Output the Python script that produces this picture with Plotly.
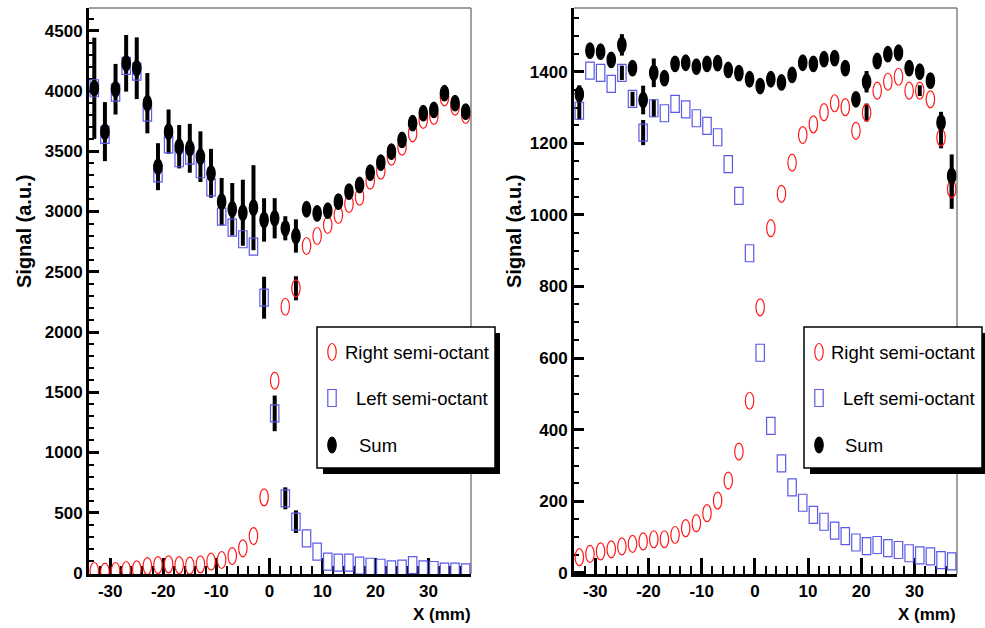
import plotly.graph_objects as go

# ---------------- data ----------------
x_mm = [-33, -31, -29, -27, -25, -23, -21, -19, -17, -15, -13, -11, -9, -7, -5, -3, -1, 1,
        3, 5, 7, 9, 11, 13, 15, 17, 19, 21, 23, 25, 27, 29, 31, 33, 35, 37]

# Left panel
sum_L = [4023, 3663, 4015, 4230, 4189, 3899, 3372, 3663, 3538, 3525, 3455, 3317, 3082, 3019, 2990, 3032, 2930, 2944,
         2861, 2797, 3019, 2985, 3007, 3082, 3165, 3220, 3323, 3406, 3497, 3594, 3733, 3816, 3843, 3982, 3899, 3829]
left_L = [4023, 3636, 3987, 4208, 4161, 3820, 3317, 3558, 3442, 3464, 3351, 3201, 2957, 2866, 2770, 2708, 2285, 1325,
          620, 426, 288, 177, 94, 86, 86, 61, 52, 44, 31, 36, 66, 31, 25, 11, 11, 6]
right_L = [17, 11, 17, 25, 31, 58, 66, 72, 66, 61, 72, 94, 108, 141, 205, 307, 628, 1596,
           2210, 2363, 2714, 2797, 2888, 2971, 3063, 3123, 3256, 3339, 3455, 3538, 3649, 3760, 3793, 3948, 3870, 3801]
sum_err_L = [420, 245, 210, 235, 256, 250, 195, 184, 180, 203, 210, 203, 196, 218, 274, 353, 180, 167,
             100, 138, 25, 25, 25, 25, 25, 25, 25, 25, 25, 25, 25, 25, 25, 25, 25, 25]
left_err_L = [0, 0, 0, 0, 0, 0, 0, 0, 0, 0, 0, 0, 0, 0, 0, 0, 174, 148,
              91, 94, 0, 0, 0, 0, 0, 0, 0, 0, 0, 0, 0, 0, 0, 0, 0, 0]
right_err_L = [0, 0, 0, 0, 0, 0, 0, 0, 0, 0, 0, 0, 0, 0, 0, 0, 0, 0,
               0, 100, 0, 0, 0, 0, 0, 0, 0, 0, 0, 0, 0, 0, 0, 0, 0, 0]

# Right panel
sum_R = [1337, 1459, 1456, 1433, 1475, 1410, 1321, 1397, 1382, 1422, 1425, 1414, 1422, 1424, 1405, 1396, 1379, 1360,
         1379, 1370, 1391, 1425, 1422, 1435, 1438, 1410, 1323, 1372, 1430, 1449, 1453, 1410, 1400, 1375, 1258, 1109]
left_R = [1291, 1403, 1397, 1366, 1397, 1324, 1230, 1298, 1284, 1310, 1295, 1270, 1249, 1217, 1142, 1053, 893, 615,
          411, 306, 239, 196, 162, 143, 118, 103, 85, 75, 78, 69, 64, 55, 49, 46, 36, 32]
right_R = [44, 53, 60, 66, 74, 81, 88, 94, 94, 106, 125, 139, 167, 202, 258, 339, 481, 742,
           963, 1059, 1146, 1223, 1253, 1287, 1312, 1301, 1235, 1286, 1347, 1372, 1386, 1347, 1347, 1323, 1216, 1072]
sum_err_R = [25, 10, 10, 10, 30, 20, 40, 40, 10, 10, 10, 10, 10, 10, 10, 10, 10, 10,
             10, 10, 10, 10, 10, 10, 10, 10, 20, 30, 10, 10, 10, 10, 20, 10, 30, 60]
left_err_R = [25, 0, 0, 0, 20, 20, 35, 25, 0, 0, 0, 0, 0, 0, 0, 0, 0, 0,
              0, 0, 0, 0, 0, 0, 0, 0, 0, 0, 0, 0, 0, 0, 0, 0, 0, 0]
right_err_R = [0, 0, 0, 0, 0, 0, 0, 0, 0, 0, 0, 0, 0, 0, 0, 0, 0, 0,
               0, 0, 0, 0, 0, 0, 0, 0, 0, 25, 0, 0, 0, 0, 15, 0, 30, 55]

x_ticks = [-30, -20, -10, 0, 10, 20, 30]
x_ticktext = ["-30", "-20", "-10", "0", "10", "20", "30"]
yL_ticks = [0, 500, 1000, 1500, 2000, 2500, 3000, 3500, 4000, 4500]
yR_ticks = [0, 200, 400, 600, 800, 1000, 1200, 1400]
series_names = ["Right semi-octant", "Left semi-octant", "Sum"]

# ---------------- style ----------------
W, H = 985, 628
FONT = "Liberation Sans"
RED = "#ff1a1a"
BLUE = "#5a5ae6"

# marker outlines (pixel half-sizes): (kind, half-w, half-h, line colour, fill)
MK_RIGHT = ("circle", 4.2, 8.5, RED, "rgba(0,0,0,0)")
MK_LEFT = ("rect", 4.2, 8.5, BLUE, "rgba(0,0,0,0)")
MK_SUM = ("circle", 4.2, 7.8, "black", "black")


def px(v):
    return v / W


def py(v):
    return 1 - v / H


fig = go.Figure()
shapes = []
annotations = []


def mark_shapes(xr, yr, xs, ys, mk):
    kind, hw, hh, lc, fc = mk
    out = []
    for xv, yv in zip(xs, ys):
        out.append(dict(type=kind, xref=xr, yref=yr, xsizemode="pixel", ysizemode="pixel",
                        xanchor=xv, yanchor=yv, x0=-hw, x1=hw, y0=-hh, y1=hh,
                        line=dict(color=lc, width=1.2), fillcolor=fc, layer="above"))
    return out


def add_panel(xa, ya, sums, lefts, rights, serr, lerr, rerr):
    for name, ys, err, col in ((series_names[2], sums, serr, "black"),
                               (series_names[0], rights, rerr, RED),
                               (series_names[1], lefts, lerr, BLUE)):
        fig.add_trace(go.Scatter(
            x=x_mm, y=ys, mode="markers", name=name,
            marker=dict(size=7, color=col, opacity=0),
            error_y=dict(type="data", array=err, color="black", thickness=4, width=0),
            xaxis=xa, yaxis=ya, showlegend=False, hoverinfo="x+y", cliponaxis=False))
    shapes.extend(mark_shapes(xa, ya, x_mm, rights, MK_RIGHT))
    shapes.extend(mark_shapes(xa, ya, x_mm, lefts, MK_LEFT))
    shapes.extend(mark_shapes(xa, ya, x_mm, sums, MK_SUM))


add_panel("x", "y", sum_L, left_L, right_L, sum_err_L, left_err_L, right_err_L)
add_panel("x2", "y2", sum_R, left_R, right_R, sum_err_R, left_err_R, right_err_R)

tickfont = dict(family=FONT, size=17, color="black", weight="bold")
xcommon = dict(range=[-34, 38], tickmode="array", tickvals=x_ticks, ticktext=x_ticktext,
               showline=True, linecolor="black", linewidth=3, ticks="inside", ticklen=16,
               tickwidth=2.5, tickcolor="black", showgrid=False, zeroline=False, tickfont=tickfont,
               automargin=False,
               minor=dict(tickmode="linear", tick0=0, dtick=2, ticks="inside", ticklen=8,
                          tickwidth=2, tickcolor="black", showgrid=False))
ycommon = dict(showline=True, linecolor="black", linewidth=3, ticks="inside", ticklen=10,
               tickwidth=3, tickcolor="black", showgrid=False, zeroline=False, tickfont=tickfont,
               tickmode="array", automargin=False)

ydom = [py(574), py(8)]
fig.update_layout(
    width=W, height=H, paper_bgcolor="white", plot_bgcolor="white",
    margin=dict(l=0, r=0, t=0, b=0, autoexpand=False), showlegend=False,
    xaxis=dict(domain=[px(89), px(471)], anchor="y", **xcommon),
    yaxis=dict(domain=ydom, anchor="x", range=[-8, 4689], tickvals=yL_ticks,
               ticktext=[str(v) for v in yL_ticks],
               minor=dict(tickmode="linear", tick0=0, dtick=100, ticks="inside", ticklen=5,
                          tickwidth=2, tickcolor="black", showgrid=False), **ycommon),
    xaxis2=dict(domain=[px(574), px(957)], anchor="y2", **xcommon),
    yaxis2=dict(domain=ydom, anchor="x2", range=[-3, 1578], tickvals=yR_ticks,
                ticktext=[str(v) for v in yR_ticks],
                minor=dict(tickmode="linear", tick0=0, dtick=50, ticks="inside", ticklen=5,
                           tickwidth=2, tickcolor="black", showgrid=False), **ycommon),
)

# thin top/right frame
for xr, yr in (("x domain", "y domain"), ("x2 domain", "y2 domain")):
    shapes.append(dict(type="line", xref=xr, yref=yr, x0=0, x1=1, y0=1, y1=1,
                       line=dict(color="#444", width=1)))
    shapes.append(dict(type="line", xref=xr, yref=yr, x0=1, x1=1, y0=0, y1=1,
                       line=dict(color="#444", width=1)))

# axis titles
for xc in (24, 514):
    annotations.append(dict(text="Signal (a.u.)", xref="paper", yref="paper", x=px(xc), y=py(232),
                            textangle=-90, showarrow=False, xanchor="center", yanchor="middle",
                            font=dict(family=FONT, size=20, color="black", weight="bold")))
for xr in (473, 958):
    annotations.append(dict(text="X (mm)", xref="paper", yref="paper", x=px(xr), y=py(614),
                            showarrow=False, xanchor="right", yanchor="middle",
                            font=dict(family=FONT, size=17, color="black", weight="bold")))

# legends (box with shadow)
leg_marks = [MK_RIGHT, MK_LEFT, MK_SUM]
for bx0, bx1, mx, tx in ((317, 495, 332, (343, 354, 357)), (804, 982, 819, (829, 841, 843))):
    shapes.append(dict(type="rect", xref="paper", yref="paper", x0=px(bx0 + 6), x1=px(bx1 + 5),
                       y0=py(474), y1=py(333), fillcolor="black", line=dict(width=0)))
    shapes.append(dict(type="rect", xref="paper", yref="paper", x0=px(bx0), x1=px(bx1),
                       y0=py(468), y1=py(327), fillcolor="white", line=dict(color="black", width=1.5)))
    for mk, name, ty, t_x in zip(leg_marks, series_names, (352, 398, 445), tx):
        kind, hw, hh, lc, fc = mk
        shapes.append(dict(type=kind, xref="paper", yref="paper", xsizemode="pixel", ysizemode="pixel",
                           xanchor=px(mx), yanchor=py(ty), x0=-hw, x1=hw, y0=-hh, y1=hh,
                           line=dict(color=lc, width=1.2), fillcolor=fc))
        annotations.append(dict(text=name, xref="paper", yref="paper", x=px(t_x), y=py(ty),
                                showarrow=False, xanchor="left", yanchor="middle",
                                font=dict(family=FONT, size=18.5, color="black")))

fig.update_layout(shapes=shapes, annotations=annotations)
fig.write_html("out.html", config={"displayModeBar": False},
               post_script="document.body.style.margin='0';document.body.style.overflow='hidden';")
